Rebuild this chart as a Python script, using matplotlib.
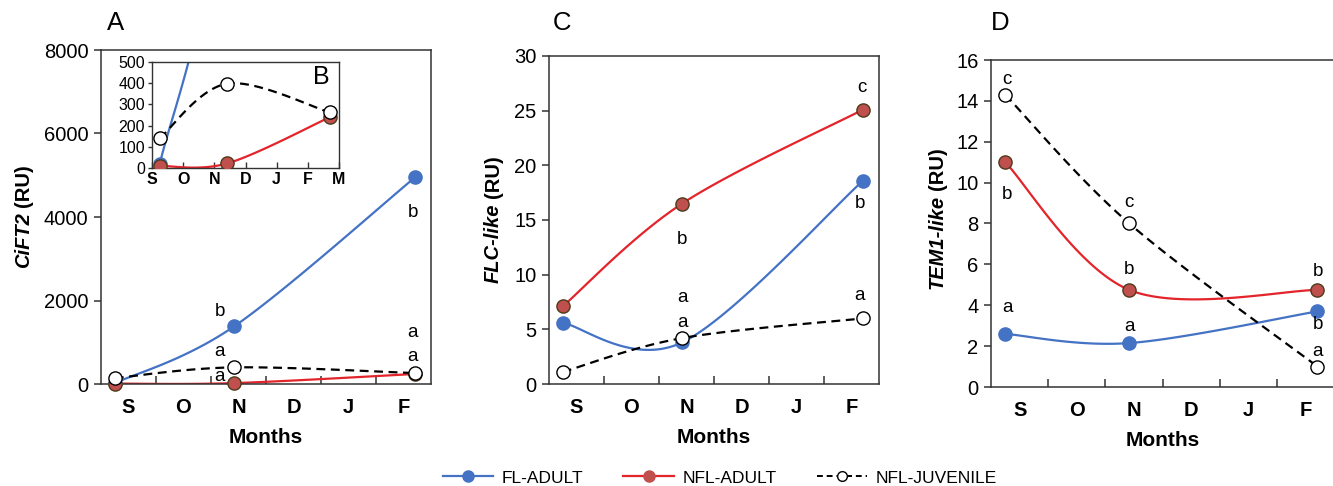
import numpy as np
import matplotlib
matplotlib.use("Agg")
import matplotlib.pyplot as plt
from matplotlib.lines import Line2D

plt.rcParams['font.family'] = ['Liberation Sans', 'DejaVu Sans']

# sampling dates, in months from start of September
sample_pos = [0.25, 2.42, 5.71]
months_main = ['S', 'O', 'N', 'D', 'J', 'F']
months_inset = ['S', 'O', 'N', 'D', 'J', 'F', 'M']

# CiFT2 (RU)
ft2_fl = [20, 1380, 4950]
ft2_nfl = [10, 22, 240]
ft2_juv = [140, 398, 262]

# FLC-like (RU)
flc_fl = [5.6, 3.8, 18.6]
flc_nfl = [7.1, 16.5, 25.1]
flc_juv = [1.1, 4.2, 6.0]

# TEM1-like (RU)
tem_fl = [2.6, 2.15, 3.7]
tem_nfl = [11.0, 4.75, 4.75]
tem_juv = [14.3, 8.0, 1.0]

# significance letters (x, y, letter)
letters_a = [(2.16, 1725, 'b'), (2.16, 767, 'a'), (2.16, 168, 'a'),
             (5.67, 4096, 'b'), (5.67, 1245, 'a'), (5.67, 647, 'a')]
letters_c = [(2.42, 13.2, 'b'), (2.42, 7.9, 'a'), (2.42, 5.6, 'a'),
             (5.69, 27.1, 'c'), (5.65, 16.5, 'b'), (5.65, 8.1, 'a')]
letters_d = [(0.28, 15.07, 'c'), (0.28, 9.44, 'b'), (0.28, 3.9, 'a'),
             (2.42, 9.05, 'c'), (2.42, 5.77, 'b'), (2.42, 2.98, 'a'),
             (5.72, 5.63, 'b'), (5.72, 3.08, 'b'), (5.72, 1.76, 'a')]

BLUE = '#4472c4'
RED_LINE = '#e3242b'
RED_FILL = '#c0504d'
RED_EDGE = '#4d3a1c'
SPINE = '#333333'


def smooth(xs, ys, n=60):
    # excel-like smoothed line (catmull-rom as cubic bezier)
    p = np.column_stack([xs, ys]).astype(float)
    ext = np.vstack([p[0], p, p[-1]])
    out = []
    t = np.linspace(0, 1, n)[:, None]
    for i in range(len(p) - 1):
        p0, p1, p2, p3 = ext[i], ext[i + 1], ext[i + 2], ext[i + 3]
        b1 = p1 + (p2 - p0) / 6
        b2 = p2 - (p3 - p1) / 6
        seg = ((1 - t) ** 3) * p1 + 3 * ((1 - t) ** 2) * t * b1 + 3 * (1 - t) * t ** 2 * b2 + t ** 3 * p2
        out.append(seg)
    out = np.vstack(out)
    return out[:, 0], out[:, 1]


def draw_series(ax, fl, nfl, juv, ms=9.5):
    x, y = smooth(sample_pos, fl)
    ax.plot(x, y, color=BLUE, lw=1.6, zorder=2)
    ax.plot(sample_pos, fl, 'o', color=BLUE, ms=ms, mec=BLUE, zorder=3, clip_on=False)
    x, y = smooth(sample_pos, nfl)
    ax.plot(x, y, color=RED_LINE, lw=1.6, zorder=2)
    ax.plot(sample_pos, nfl, 'o', color=RED_FILL, ms=ms, mec=RED_EDGE, mew=1.0, zorder=3, clip_on=False)
    x, y = smooth(sample_pos, juv)
    ax.plot(x, y, color='black', lw=1.6, ls=(0, (4, 2.5)), zorder=4)
    ax.plot(sample_pos, juv, 'o', color='white', ms=ms, mec='black', mew=1.0, zorder=5, clip_on=False)


def style_main(ax, ymax, ystep):
    ax.set_xlim(0, 6)
    ax.set_ylim(0, ymax)
    ax.set_yticks(np.arange(0, ymax + ystep / 2, ystep))
    ax.set_xticks([1, 2, 3, 4, 5])
    ax.set_xticklabels([])
    ax.set_xticks(np.arange(0.5, 6, 1), minor=True)
    ax.set_xticklabels(months_main, minor=True, fontsize=14.5, fontweight='bold')
    ax.tick_params(axis='x', which='major', direction='in', length=6, width=1.1, color=SPINE)
    ax.tick_params(axis='x', which='minor', length=0, pad=10)
    ax.tick_params(axis='y', direction='out', length=5, width=1.1, color=SPINE, labelsize=14.5, pad=4)
    for s in ax.spines.values():
        s.set_color(SPINE)
        s.set_linewidth(1.1)
    ax.set_xlabel('Months', fontsize=15, fontweight='bold', labelpad=8)


def put_letters(ax, letters):
    for x, y, t in letters:
        ax.text(x, y, t, ha='center', va='center', fontsize=13.5)


fig = plt.figure(figsize=(13.33, 4.86), dpi=100)

axA = fig.add_axes([101 / 1333, 1 - 384 / 486, 330 / 1333, 334 / 486])
axC = fig.add_axes([549 / 1333, 1 - 384 / 486, 330 / 1333, 328 / 486])
axD = fig.add_axes([991 / 1333, 1 - 387 / 486, 343 / 1333, 327 / 486])

draw_series(axA, ft2_fl, ft2_nfl, ft2_juv)
style_main(axA, 8000, 2000)
put_letters(axA, letters_a)

draw_series(axC, flc_fl, flc_nfl, flc_juv)
style_main(axC, 30, 5)
put_letters(axC, letters_c)

draw_series(axD, tem_fl, tem_nfl, tem_juv)
style_main(axD, 16, 2)
put_letters(axD, letters_d)

# inset B
axB = fig.add_axes([152 / 1333, 1 - 168 / 486, 187 / 1333, 106 / 486])
draw_series(axB, ft2_fl, ft2_nfl, ft2_juv, ms=9.5)
for ln in axB.lines:
    ln.set_clip_on(True)
axB.set_xlim(0, 6)
axB.set_ylim(0, 500)
axB.set_yticks(np.arange(0, 501, 100))
axB.set_xticks(np.arange(0, 7))
axB.set_xticklabels(months_inset, fontsize=11.5, fontweight='bold')
axB.tick_params(axis='x', direction='in', length=4, width=1.0, color=SPINE, pad=3)
axB.tick_params(axis='y', direction='out', length=3, width=1.0, color=SPINE, labelsize=11.5, pad=2)
for s in axB.spines.values():
    s.set_color(SPINE)
    s.set_linewidth(1.0)
axB.text(0.95, 0.86, 'B', transform=axB.transAxes, ha='right', va='center', fontsize=18)

# panel letters
fig.text(116 / 1333, 1 - 23 / 486, 'A', ha='center', va='center', fontsize=18.5)
fig.text(562 / 1333, 1 - 23 / 486, 'C', ha='center', va='center', fontsize=18.5)
fig.text(1000 / 1333, 1 - 23 / 486, 'D', ha='center', va='center', fontsize=18.5)

# y labels: italic gene name + "(RU)"
renderer = fig.canvas.get_renderer()


def ylabel_two(xpix, ycpix, gene):
    t1 = fig.text(0, 0, gene, rotation=90, rotation_mode='anchor', ha='left', va='baseline',
                  fontsize=14.5, fontweight='bold', style='italic')
    t2 = fig.text(0, 0, '(RU)', rotation=90, rotation_mode='anchor', ha='left', va='baseline',
                  fontsize=14.5, fontweight='bold')
    h1 = t1.get_window_extent(renderer).height
    h2 = t2.get_window_extent(renderer).height
    gap = 5
    y0 = (486 - ycpix) - (h1 + gap + h2) / 2
    t1.set_position((xpix / 1333, y0 / 486))
    t2.set_position((xpix / 1333, (y0 + h1 + gap) / 486))


ylabel_two(29, 216, 'CiFT2')
ylabel_two(499, 219, 'FLC-like')
ylabel_two(943, 218, 'TEM1-like')

handles = [
    Line2D([], [], color=BLUE, lw=1.6, marker='o', ms=8, mfc=BLUE, mec=BLUE),
    Line2D([], [], color=RED_LINE, lw=1.6, marker='o', ms=8, mfc=RED_FILL, mec=RED_FILL),
    Line2D([], [], color='black', lw=1.4, ls=(0, (3, 2)), marker='o', ms=7, mfc='white', mec='black'),
]
fig.legend(handles, ['FL-ADULT', 'NFL-ADULT', 'NFL-JUVENILE'], loc='center',
           bbox_to_anchor=(0.54, 1 - 478 / 486), ncol=3, frameon=False, fontsize=12.5,
           handlelength=2.9, columnspacing=2.3, handletextpad=0.5)

fig.savefig('out.png', dpi=100)
